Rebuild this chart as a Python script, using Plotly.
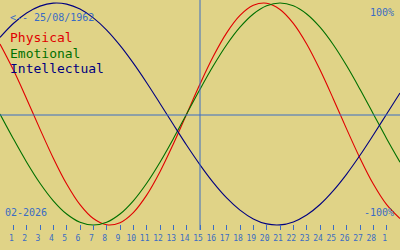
import plotly.graph_objects as go

# Days of February 2026 (0 = 31 Jan, 29 = 1 Mar)
days = list(range(0, 31))
physical = [0.631, 0.398, 0.136, -0.136, -0.398, -0.631, -0.817, -0.942, -0.998, -0.979,
            -0.888, -0.731, -0.520, -0.270, 0.0, 0.270, 0.520, 0.731, 0.888, 0.979,
            0.998, 0.942, 0.817, 0.631, 0.398, 0.136, -0.136, -0.398, -0.631, -0.817, -0.942]
emotional = [0.0, -0.2225, -0.4339, -0.6235, -0.7818, -0.9010, -0.9749, -1.0, -0.9749, -0.9010,
             -0.7818, -0.6235, -0.4339, -0.2225, 0.0, 0.2225, 0.4339, 0.6235, 0.7818, 0.9010,
             0.9749, 1.0, 0.9749, 0.9010, 0.7818, 0.6235, 0.4339, 0.2225, 0.0, -0.2225, -0.4339]
intellectual = [0.690, 0.815, 0.910, 0.972, 0.999, 0.990, 0.945, 0.866, 0.756, 0.618,
                0.458, 0.282, 0.095, -0.095, -0.282, -0.458, -0.618, -0.756, -0.866, -0.945,
                -0.990, -0.999, -0.972, -0.910, -0.815, -0.690, -0.541, -0.372, -0.189, 0.0, 0.189]
tick_days = list(range(1, 30))
tick_labels = [str(d) for d in range(1, 29)] + ["1"]
today = 15
birth_label = "<-- 25/08/1962"
month_label = "02-2026"
series_names = ["Physical", "Emotional", "Intellectual"]
series_colors = ["#e00000", "#007000", "#000080"]

BG = "#e0d387"
BLUE = "#3a6cc4"
FONT = "DejaVu Sans Mono"
PLOT_H = 230.0

def py(px):
    return 1 - px / PLOT_H

fig = go.Figure()
for name, vals, col in zip(series_names, [physical, emotional, intellectual], series_colors):
    fig.add_trace(go.Scatter(x=days, y=vals, mode="lines", name=name,
                             line=dict(color=col, width=1.1, shape="spline"),
                             showlegend=False, hoverinfo="skip"))

fig.add_shape(type="line", xref="x", yref="paper", x0=today, x1=today, y0=0, y1=1,
              line=dict(color=BLUE, width=1))
fig.add_shape(type="line", xref="paper", yref="y", x0=0, x1=1, y0=-0.009, y1=-0.009,
              line=dict(color=BLUE, width=1))

annos = [
    dict(text=birth_label, x=0, y=py(17), xshift=8, color=BLUE, size=10),
    dict(text=series_names[0], x=0, y=py(38), xshift=8, color=series_colors[0], size=13),
    dict(text=series_names[1], x=0, y=py(53), xshift=8, color=series_colors[1], size=13),
    dict(text=series_names[2], x=0, y=py(68), xshift=8, color=series_colors[2], size=13),
    dict(text=month_label, x=0, y=py(212), xshift=3, color=BLUE, size=10),
]
for a in annos:
    fig.add_annotation(text=a["text"], xref="paper", yref="paper", x=a["x"], y=a["y"],
                       xanchor="left", yanchor="middle", xshift=a["xshift"], showarrow=False,
                       font=dict(family=FONT, size=a["size"], color=a["color"]))
for t, yy in [("100%", 12), ("-100%", 212)]:
    fig.add_annotation(text=t, xref="paper", yref="paper", x=1, y=py(yy), xanchor="right",
                       yanchor="middle", xshift=-4, showarrow=False,
                       font=dict(family=FONT, size=10, color=BLUE))

fig.update_layout(
    width=400, height=250,
    margin=dict(l=0, r=0, t=0, b=20),
    paper_bgcolor=BG, plot_bgcolor=BG,
    xaxis=dict(range=[0, 30], tickvals=tick_days, ticktext=tick_labels,
               ticks="inside", ticklen=5, tickcolor=BLUE, tickwidth=1,
               ticklabelstandoff=2, ticklabelshift=-2,
               showgrid=False, zeroline=False, showline=False,
               tickfont=dict(family=FONT, size=8, color=BLUE), fixedrange=True),
    yaxis=dict(range=[-1.045, 1.027], showticklabels=False, showgrid=False,
               zeroline=False, showline=False, ticks="", fixedrange=True),
)

fig.write_html("out.html", config={"displayModeBar": False})
